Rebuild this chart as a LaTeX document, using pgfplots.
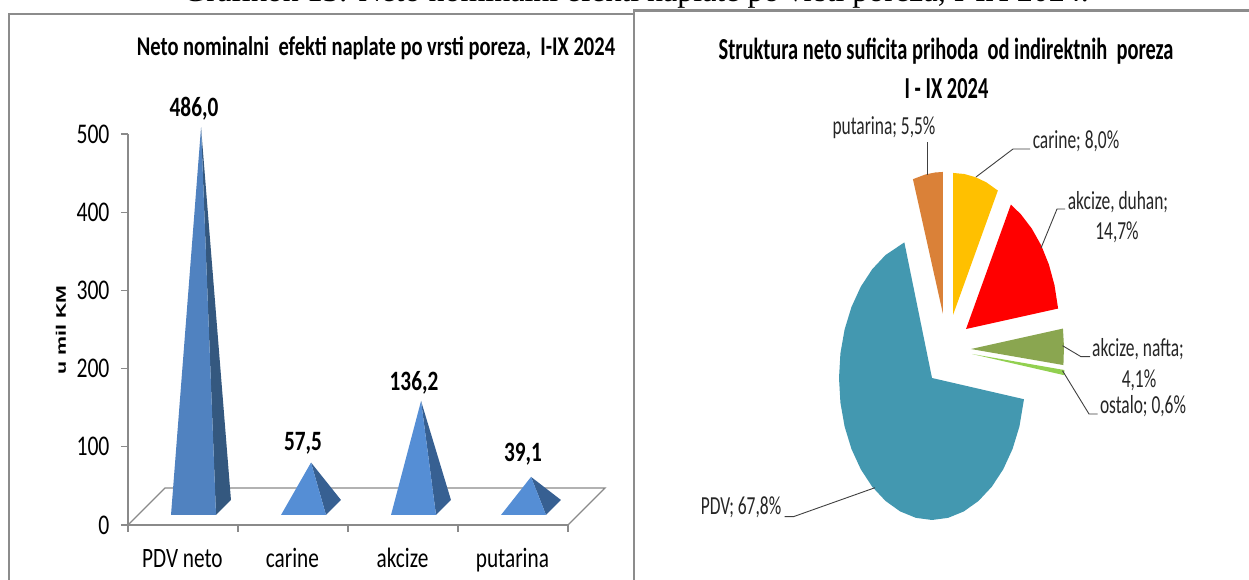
\documentclass[border=0pt]{standalone}
\usepackage{fontspec}
\usepackage{pgfplots}
\pgfplotsset{compat=1.18}
\setmainfont{Carlito}[FakeStretch=0.76]
\newfontfamily\narrowf{Carlito}[FakeStretch=0.67]
\newfontfamily\timesf{Liberation Serif}
\newfontfamily\arialf{Liberation Sans}
\definecolor{framegray}{HTML}{8C8C8C}
\definecolor{axgray}{HTML}{8A8A8A}
\definecolor{pyrA}{HTML}{5082C0}
\definecolor{pyrB}{HTML}{558ED5}
\definecolor{pyrD}{HTML}{34587F}
\definecolor{pyrE}{HTML}{376092}
\definecolor{pieCar}{HTML}{FFC000}
\definecolor{pieDuh}{HTML}{FF0000}
\definecolor{pieNaf}{HTML}{8AA650}
\definecolor{pieOst}{HTML}{92D050}
\definecolor{piePdv}{HTML}{4398B0}
\definecolor{piePut}{HTML}{DA8138}
\newcommand{\fs}[1]{\fontsize{#1}{#1}\selectfont}
\begin{document}
\begin{tikzpicture}[x=1pt,y=1pt]
\useasboundingbox (0,0) rectangle (1249,580);
\begin{scope}[x=1pt,y=-1pt,shift={(0,580pt)}]
\node[anchor=base,font=\timesf\fs{32}] at (636,2) {Grafikon 13: Neto nominalni efekti naplate po vrsti poreza, I-IX 2024.};
\fill[white] (0,10) rectangle (1249,580);
\draw[framegray,line width=2pt] (9,580) -- (9,14.5) -- (634,14.5);
\draw[framegray,line width=2.5pt] (634,580) -- (634,10.5) -- (1249,10.5);
\node[font=\bfseries\fs{27}] at (376,48) {Neto nominalni\ \ efekti naplate po vrsti poreza,\ \ I-IX 2024};
\node[font=\narrowf\bfseries\fs{30.5}] at (946,51) {Struktura neto suficita prihoda\ \ od indirektnih\ \ poreza};
\node[font=\narrowf\bfseries\fs{30.5}] at (946.5,89) {I - IX 2024};
\node[font=\arialf\bfseries\fs{12},rotate=90] at (61,330) {\scalebox{1.78}[1.15]{u mil KM}};
\end{scope}

\begin{axis}[
  at={(128pt,55pt)},anchor=south west,scale only axis,width=440pt,height=391pt,
  xmin=0,xmax=4,ymin=0,ymax=500,clip=false,
  axis lines=left,axis line style={-,axgray,line width=1.3pt},
  tick style={axgray,line width=1.2pt},tick align=outside,major tick length=7pt,
  xtick={0,1,2,3,4},xticklabels={},
  extra x ticks={0.495,1.495,2.495,3.495},
  extra x tick labels={PDV neto,carine,akcize,putarina},
  extra x tick style={major tick length=0pt,tick label style={font=\fs{28},anchor=base,yshift=-43pt}},
  ytick={0,100,200,300,400,500},
  yticklabel style={font=\fs{28.5},xshift=-8pt},
  /pgf/number format/.cd,assume math mode=true,use comma,1000 sep={},
]
\addplot[axgray,line width=1.3pt] coordinates {(0,0) (0.336,47.3) (4.336,47.3) (4,0)};
% PDV neto 486,0
\addplot[fill=pyrD,draw=none] coordinates {(0.800,12.8) (0.936,32) (0.664,508.4)} -- cycle;
\addplot[fill=pyrA,draw=none] coordinates {(0.391,12.8) (0.800,12.8) (0.664,508.4)} -- cycle;
% carine 57,5
\addplot[fill=pyrE,draw=none] coordinates {(1.800,12.8) (1.936,32) (1.664,79.9)} -- cycle;
\addplot[fill=pyrB,draw=none] coordinates {(1.391,12.8) (1.800,12.8) (1.664,79.9)} -- cycle;
% akcize 136,2
\addplot[fill=pyrE,draw=none] coordinates {(2.800,12.8) (2.936,32) (2.664,158.6)} -- cycle;
\addplot[fill=pyrB,draw=none] coordinates {(2.391,12.8) (2.800,12.8) (2.664,158.6)} -- cycle;
% putarina 39,1
\addplot[fill=pyrE,draw=none] coordinates {(3.800,12.8) (3.936,32) (3.664,61.5)} -- cycle;
\addplot[fill=pyrB,draw=none] coordinates {(3.391,12.8) (3.800,12.8) (3.664,61.5)} -- cycle;
\addplot[draw=none,point meta=explicit,nodes near coords,
  nodes near coords style={anchor=center,font=\bfseries\fs{28},
   /pgf/number format/.cd,fixed,fixed zerofill,precision=1,use comma,assume math mode=true}]
 coordinates {(0.6,532)[486.0] (1.591,104)[57.5] (2.6,182)[136.2] (3.591,91)[39.1]};
\end{axis}

\begin{axis}[
  at={(839pt,60pt)},anchor=south west,scale only axis,width=186pt,height=284pt,
  xmin=-1,xmax=1,ymin=-1,ymax=1,hide axis,clip=false]
% carine 8,0%
\addplot[fill=pieCar,draw=none] coordinates {(0.226,0.444) (0.226,1.444) (0.348,1.4365) (0.468,1.414) (0.584,1.378) (0.708,1.320)} -- cycle;
% akcize, duhan 14,7%
\addplot[fill=pieDuh,draw=none] coordinates {(0.366,0.345) (0.848,1.221) (0.954,1.154) (1.073,1.052) (1.175,0.933) (1.257,0.799) (1.317,0.654) (1.356,0.489)} -- cycle;
% akcize, nafta 4,1%
\addplot[fill=pieNaf,draw=none] coordinates {(0.419,0.204) (1.408,0.348) (1.419,0.221) (1.413,0.091)} -- cycle;
% ostalo 0,6%
\addplot[fill=pieOst,draw=none] coordinates {(0.43,0.169) (1.424,0.056) (1.419,0.020)} -- cycle;
% PDV 67,8%
\addplot[fill=piePdv,draw=none] coordinates {(0,0) (0.9888,-0.1495) (0.9397,-0.3420) (0.8660,-0.5) (0.7660,-0.6428) (0.6428,-0.7660) (0.5,-0.8660) (0.3420,-0.9397) (0.1736,-0.9848) (0,-1) (-0.1736,-0.9848) (-0.3420,-0.9397) (-0.5,-0.8660) (-0.6428,-0.7660) (-0.7660,-0.6428) (-0.8660,-0.5) (-0.9397,-0.3420) (-0.9848,-0.1736) (-1,0) (-0.9848,0.1736) (-0.9397,0.3420) (-0.8660,0.5) (-0.7660,0.6428) (-0.6428,0.7660) (-0.5,0.8660) (-0.2974,0.9548)} -- cycle;
% putarina 5,5%
\addplot[fill=piePut,draw=none] coordinates {(0.118,0.451) (-0.205,1.400) (-0.073,1.433) (0.031,1.447) (0.118,1.451)} -- cycle;
\end{axis}

\begin{scope}[x=1pt,y=-1pt,shift={(0,580pt)},line width=0.9pt,draw=black!75]
\draw (927.4,142.3) -- (927.4,175);
\draw (976,177) -- (1013,149) -- (1030,149);
\draw (1041,248) -- (1057,209) -- (1065,209);
\draw (1062.5,345.7) -- (1081,356.7) -- (1090,356.7);
\draw (1062.5,370.7) -- (1089,414) -- (1097.5,414);
\draw (875,487.7) -- (793.4,516.7) -- (784.5,516.7);
\tikzset{every node/.style={font=\narrowf\fs{26},text=black!85}}
\node at (884,128) {putarina; 5,5\%};
\node at (1076,141) {carine; 8,0\%};
\node at (1118,201.7) {akcize, duhan;};
\node at (1117,232) {14,7\%};
\node at (1138,349) {akcize, nafta;};
\node at (1139,380) {4,1\%};
\node at (1143,406) {ostalo; 0,6\%};
\node at (741,507.7) {PDV; 67,8\%};
\end{scope}
\end{tikzpicture}
\end{document}
